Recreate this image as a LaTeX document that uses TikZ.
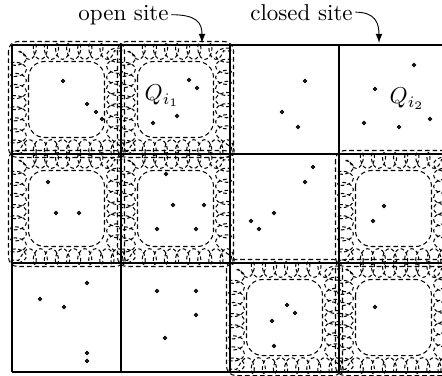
\documentclass[tikz,border=0pt]{standalone}
\usepackage{amsmath}
\usepackage{tikz}
\usetikzlibrary{arrows,positioning,decorations.pathmorphing}

\begin{document}
\begin{tikzpicture}[x=0.0153cm,y=-0.0153cm]
	\tikzstyle{grid}=[line width=0.7pt]
	\tikzstyle{rim}=[line width=0.45pt, dash pattern=on 2pt off 1.3pt]
	\tikzstyle{band}
	  =[decorate, decoration={coil, amplitude=0.12cm, segment length=0.17cm, aspect=0.5},
	  line width=0.45pt, dash pattern=on 1.6pt off 1.1pt]
	\tikzstyle{pt}=[line width=0.5pt, fill=white]

	\useasboundingbox (0,0) rectangle (442,375);
	\clip (0,0) rectangle (442,375);

	% open sites
	\foreach \r/\c in {0/0,0/1,1/0,1/1,1/3,2/2,2/3}
	{
	  \pgfmathsetmacro\xa{12+109*\c}
	  \pgfmathsetmacro\ya{45+109*\r}
	  \draw[band] (\xa+6.5,\ya+6.5) rectangle (\xa+102.5,\ya+102.5);
	  \draw[rim, rounded corners=4pt] (\xa-3.5,\ya-3.5) rectangle (\xa+112.5,\ya+112.5);
	  \draw[rim, rounded corners=7pt] (\xa+16.5,\ya+16.5) rectangle (\xa+92.5,\ya+92.5);
	}

	% grid of sites
	\foreach \y in {45,154,263,372}
	  \draw[grid] (12,\y) -- (448,\y);
	\foreach \x in {12,121,230,339}
	  \draw[grid] (\x,45) -- (\x,372);

	% points
	\foreach \x/\y in {63/81,87/104,96/112,102/119,
	  189/80,197/88,177/116,153/123,
	  305/81,282/112,298/127,
	  414/65,375/89,364/123,399/127,430/119,
	  48/182,56/213,79/213,
	  166/174,173/205,204/205,157/229,196/229,
	  313/167,305/182,274/213,251/221,259/229,
	  384/206,373/221,
	  87/283,40/299,64/307,87/353,87/361,
	  157/291,196/291,196/315,165/338,
	  287/305,295/313,272/321,274/346,
	  375/307}
	  \draw[pt] (\x,\y) circle (1.5);

	\node[] (Q1) at (162,96) {$Q_{i_1}$};
	\node[] (Q2) at (407,99) {$Q_{i_2}$};

	\node[anchor=base, inner sep=1pt] (open) at (123.5,20) {open site};
	\node[anchor=base, inner sep=1pt] (closed) at (301.5,20) {closed site};
	\coordinate (openTip) at (202,43);
	\coordinate (closedTip) at (379,43);

	\draw[-latex] (open.east) .. controls +(26,0) and +(0,-20) .. (openTip);
	\draw[-latex] (closed.east) .. controls +(20,0) and +(0,-20) .. (closedTip);
\end{tikzpicture}
\end{document}
